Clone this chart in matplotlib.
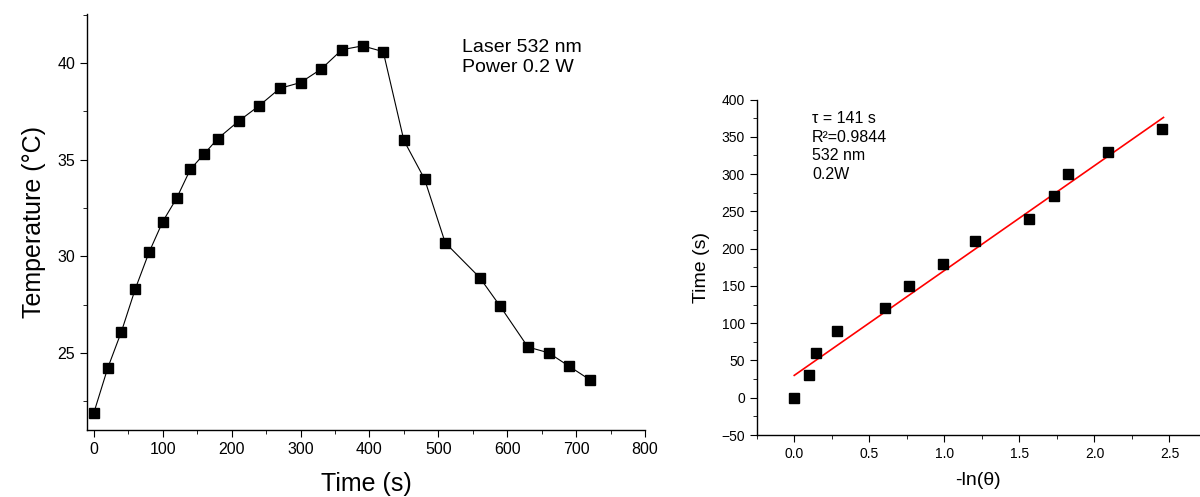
import matplotlib
matplotlib.use("Agg")
import matplotlib.pyplot as plt
from matplotlib.ticker import MultipleLocator

plt.rcParams.update({
    "font.family": ["Liberation Sans", "DejaVu Sans"],
    "axes.spines.top": False,
    "axes.spines.right": False,
    "xtick.direction": "out",
    "ytick.direction": "out",
    "axes.linewidth": 1.0,
})

# heating / cooling curve
t_heat = [0, 20, 40, 60, 80, 100, 120, 140, 160, 180, 210, 240, 270, 300, 330,
          360, 390, 420, 450, 480, 510, 560, 590, 630, 660, 690, 720]
temp = [21.9, 24.2, 26.1, 28.3, 30.2, 31.8, 33.0, 34.5, 35.3, 36.1, 37.0, 37.8,
        38.7, 39.0, 39.7, 40.7, 40.9, 40.6, 36.0, 34.0, 30.7, 28.9, 27.4, 25.3,
        25.0, 24.3, 23.6]

# cooling time vs -ln(theta)
ln_theta = [0.0, 0.10, 0.148, 0.288, 0.604, 0.764, 0.994, 1.202, 1.563, 1.732,
            1.827, 2.093, 2.453]
t_cool = [0, 30, 60, 90, 120, 150, 180, 210, 240, 270, 300, 330, 360]
fit_x = [0.0, 2.46]
fit_y = [30, 376]

fig = plt.figure(figsize=(12, 4.97), dpi=100)

# left: temperature vs time
ax1 = fig.add_axes([0.0725, 0.1348, 0.465, 0.837])
ax1.plot(t_heat, temp, color="black", lw=0.8, marker="s", ms=7,
         mec="black", mfc="black")
ax1.set_xlim(-10, 800)
ax1.set_ylim(21, 42.55)
ax1.xaxis.set_major_locator(MultipleLocator(100))
ax1.xaxis.set_minor_locator(MultipleLocator(50))
ax1.yaxis.set_major_locator(MultipleLocator(5))
ax1.yaxis.set_minor_locator(MultipleLocator(2.5))
ax1.tick_params(which="major", length=5, labelsize=11.5)
ax1.tick_params(which="minor", length=3)
ax1.set_xlabel("Time (s)", fontsize=18)
ax1.xaxis.set_label_coords(0.5, -0.1)
ax1.set_ylabel("Temperature (\u00b0C)", fontsize=18, labelpad=8)
fig.text(462 / 1200, 1 - 39 / 497, "Laser 532 nm\nPower 0.2 W",
         fontsize=14, va="top", ha="left", linespacing=1.2)

# right: cooling time fit
ax2 = fig.add_axes([0.6306, 0.1247, 0.369, 0.675])
ax2.plot(fit_x, fit_y, color="red", lw=1.2)
ax2.plot(ln_theta, t_cool, ls="none", marker="s", ms=7, color="black")
ax2.set_xlim(-0.25, 2.7)
ax2.set_ylim(-50, 400)
ax2.xaxis.set_major_locator(MultipleLocator(0.5))
ax2.xaxis.set_minor_locator(MultipleLocator(0.25))
ax2.yaxis.set_major_locator(MultipleLocator(50))
ax2.yaxis.set_minor_locator(MultipleLocator(25))
ax2.tick_params(which="major", length=5, labelsize=10)
ax2.tick_params(which="minor", length=3)
ax2.set_xlabel("-ln(\u03b8)", fontsize=14, labelpad=8)
ax2.set_ylabel("Time (s)", fontsize=14, labelpad=8)
fig.text(812 / 1200, 1 - 111 / 497,
         "\u03c4 = 141 s\nR\u00b2=0.9844\n532 nm\n0.2W",
         fontsize=11.5, va="top", ha="left", linespacing=1.3)

fig.savefig("out.png", dpi=100)
